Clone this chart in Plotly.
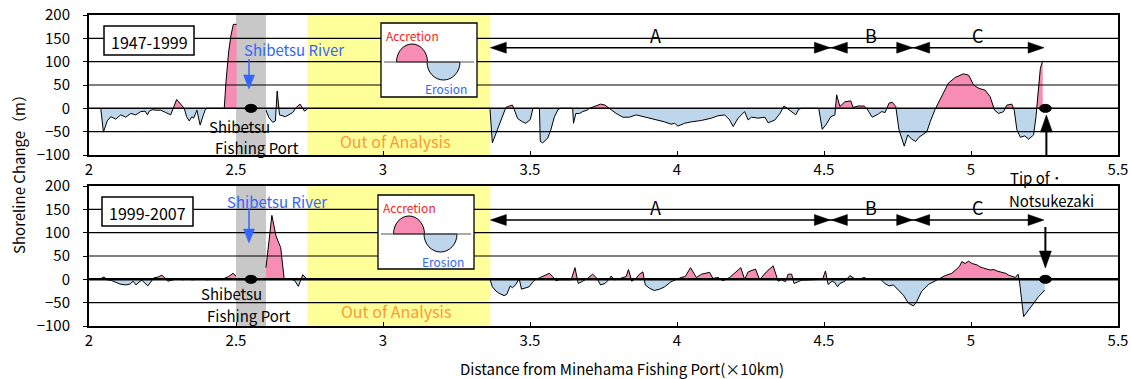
import plotly.graph_objects as go

# ---------------- data ----------------
# 1947-1999 shoreline change (m) vs distance (x10 km)
x_4799_west = [2.040, 2.049, 2.062, 2.074, 2.091, 2.108, 2.125, 2.142, 2.159, 2.176, 2.191, 2.199, 2.205, 2.216,
               2.227, 2.244, 2.261, 2.278, 2.298, 2.312, 2.324, 2.332, 2.341, 2.350, 2.356, 2.367, 2.378, 2.388,
               2.395, 2.401, 2.460, 2.466, 2.475, 2.483, 2.491, 2.502]
y_4799_west = [0, -51, -27, -18, -23, -14, -19, -11, -14, -7, -6, -14, -6, -3,
               -4, -4, -9, -14, 19, 9, 0, -18, -27, -18, -21, -4, -36, -16,
               -4, 0, 0, 57, 121, 157, 180, 180]
x_4799_mid = [2.602, 2.612, 2.625, 2.634, 2.640, 2.648, 2.668, 2.693, 2.705, 2.718, 2.733, 2.742]
y_4799_mid = [-4, -20, -30, -27, 37, -14, -18, -9, 2, 9, -6, -2]
x_4799_east = [3.364, 3.372, 3.389, 3.406, 3.418, 3.430, 3.440, 3.446, 3.458, 3.475, 3.486, 3.501, 3.510,
               3.532, 3.535, 3.543, 3.560, 3.571, 3.583, 3.596, 3.605, 3.645, 3.648, 3.656, 3.668, 3.679,
               3.694, 3.702, 3.725, 3.740, 3.755, 3.770, 3.793, 3.816, 3.838, 3.861, 3.889, 3.924, 3.958,
               3.980, 3.992, 4.003, 4.026, 4.048, 4.083, 4.117, 4.139, 4.162, 4.179, 4.191, 4.208, 4.230,
               4.242, 4.253, 4.276, 4.299, 4.310, 4.333, 4.350, 4.364, 4.384, 4.404, 4.414, 4.423, 4.482,
               4.494, 4.508, 4.523, 4.537, 4.543, 4.554, 4.571, 4.591, 4.599, 4.616, 4.637, 4.645, 4.664,
               4.685, 4.696, 4.708, 4.721, 4.732, 4.744, 4.755, 4.773, 4.785, 4.798, 4.812, 4.823, 4.850,
               4.861, 4.878, 4.900, 4.923, 4.946, 4.974, 4.992, 5.009, 5.026, 5.048, 5.065, 5.080, 5.094,
               5.111, 5.122, 5.139, 5.147, 5.156, 5.168, 5.183, 5.196, 5.213, 5.221, 5.230, 5.236, 5.244]
y_4799_east = [-2, -74, -46, -18, 2, 5, 7, -2, -22, -29, -32, -24, 0,
               0, -71, -74, -64, -46, -18, -2, 0, 0, -32, -11, -11, -7,
               -4, 0, 5, 9, 7, 0, -11, -19, -19, -14, -18, -24, -29,
               -34, -32, -38, -32, -29, -26, -21, -16, -14, -25, -39, -21, -7,
               -25, -19, -21, -19, -31, -25, -11, 5, -4, -14, -2, 0, 0,
               -45, -34, -18, -14, 29, 4, 14, 16, 2, 5, 5, 0, -19,
               -12, -7, -9, 11, 13, 4, -46, -81, -57, -66, -71, -62, -50,
               -29, -2, 25, 54, 66, 74, 71, 50, 43, 39, 25, -4, -11,
               -7, 7, 9, -4, -46, -62, -59, -66, -57, -18, 54, 86, 102]

# 1999-2007 shoreline change (m)
x_9907_west = [2.040, 2.045, 2.052, 2.060, 2.075, 2.090, 2.105, 2.125, 2.140, 2.150, 2.160, 2.170, 2.180,
               2.190, 2.200, 2.210, 2.220, 2.235, 2.248, 2.258, 2.268, 2.280, 2.290, 2.300, 2.320, 2.335,
               2.350, 2.370, 2.390, 2.400, 2.430, 2.460, 2.475, 2.490, 2.500]
y_9907_west = [0, 4, 5, -1, -2, -6, -10, -12, -10, -4, -12, -6, -2,
               -8, -14, -6, 3, 5, 9, 3, -4, -2, 0, 1, -1, 1,
               -1, 0, 1, -1, 0, 2, 6, 13, 7]
x_9907_mid = [2.602, 2.622, 2.636, 2.645, 2.652, 2.664, 2.690, 2.700, 2.712, 2.727, 2.742]
y_9907_mid = [25, 137, 93, 77, 68, 0, 0, -3, -15, 10, 0]
x_9907_east = [3.364, 3.372, 3.384, 3.395, 3.412, 3.421, 3.433, 3.440, 3.452, 3.463, 3.471, 3.483, 3.497,
               3.509, 3.517, 3.535, 3.549, 3.566, 3.577, 3.588, 3.600, 3.640, 3.653, 3.664, 3.679, 3.696,
               3.713, 3.728, 3.740, 3.755, 3.767, 3.776, 3.787, 3.799, 3.816, 3.827, 3.835, 3.846, 3.861,
               3.872, 3.884, 3.892, 3.906, 3.923, 3.941, 3.958, 3.980, 3.997, 4.014, 4.028, 4.046, 4.066,
               4.083, 4.111, 4.122, 4.140, 4.156, 4.179, 4.196, 4.217, 4.230, 4.242, 4.267, 4.281, 4.304,
               4.327, 4.344, 4.355, 4.369, 4.378, 4.390, 4.398, 4.412, 4.423, 4.495, 4.505, 4.514, 4.528,
               4.537, 4.546, 4.554, 4.571, 4.588, 4.596, 4.605, 4.622, 4.637, 4.648, 4.662, 4.685, 4.694,
               4.707, 4.721, 4.736, 4.753, 4.770, 4.787, 4.804, 4.815, 4.832, 4.855, 4.878, 4.895, 4.912,
               4.935, 4.952, 4.960, 4.969, 4.980, 4.992, 5.003, 5.020, 5.030, 5.043, 5.055, 5.065, 5.078,
               5.088, 5.105, 5.118, 5.128, 5.151, 5.160, 5.164, 5.179, 5.207, 5.230, 5.251]
y_9907_east = [0, -16, -25, -30, -35, -32, -14, -18, -11, 2, -21, -18, -16,
               -6, -1, 4, 8, 13, 6, -3, -1, -1, 25, -9, -4, 2,
               11, 2, -12, -9, -1, 7, -1, 0, 4, 6, 21, -4, 2,
               11, 16, -12, -19, -24, -21, -16, -5, 0, 4, 6, 25, 4,
               11, 15, 2, 4, -3, 4, 13, 25, 0, 16, 22, -1, 16,
               29, -4, -1, -5, 11, 11, -9, -5, -2, 0, 18, -11, -4,
               -7, -16, -9, -4, 8, 4, 1, 1, 4, 0, 1, 2, -1,
               -9, -14, -12, -23, -34, -51, -57, -48, -26, -11, -4, 2, 8,
               13, 24, 27, 38, 34, 39, 34, 31, 27, 24, 22, 20, 21,
               18, 15, 13, 9, 4, 11, 0, -80, -55, -37, -23]

period_labels = ["1947-1999", "1999-2007"]
section_labels = ["A", "B", "C"]
section_bounds = [3.365, 4.525, 4.805, 5.252]
port_x = 2.551
tip_x = 5.253
port_band = [2.50, 2.602]
out_band = [2.742, 3.365]

# ---------------- layout helpers ----------------
W, H = 1131, 379
ML, MR, MT, MB = 89, 13, 15, 53
PW, PH = W - ML - MR, H - MT - MB


def PX(px):
    return (px - ML) / PW


def PY(py):
    return (H - MB - py) / PH


def x2px(x):
    return ML + (x - 2.0) / 3.5 * PW


PINK = "#F78DB3"
BLUE = "#BDD6EC"
RIVER = "#3366FF"
ORANGE = "#FF9933"
FONT = "Noto Sans CJK JP"


def split_sign(xs, ys):
    px_, py_, nx_, ny_ = [], [], [], []
    for i, (x, y) in enumerate(zip(xs, ys)):
        if i > 0:
            x0, y0 = xs[i - 1], ys[i - 1]
            if (y0 > 0 > y) or (y0 < 0 < y):
                xc = x0 + (x - x0) * y0 / (y0 - y)
                px_.append(xc); py_.append(0); nx_.append(xc); ny_.append(0)
        px_.append(x); py_.append(max(y, 0))
        nx_.append(x); ny_.append(min(y, 0))
    return px_, py_, nx_, ny_


fig = go.Figure()

panels = [
    ("x", "y", [(x_4799_west, y_4799_west), (x_4799_mid, y_4799_mid), (x_4799_east, y_4799_east)]),
    ("x2", "y2", [(x_9907_west, y_9907_west), (x_9907_mid, y_9907_mid), (x_9907_east, y_9907_east)]),
]
for xa, ya, segs in panels:
    for xs, ys in segs:
        a, b, c, d = split_sign(xs, ys)
        fig.add_trace(go.Scatter(x=a, y=b, xaxis=xa, yaxis=ya, mode="lines", fill="tozeroy",
                                 fillcolor=PINK, line=dict(width=0), hoverinfo="skip", showlegend=False))
        fig.add_trace(go.Scatter(x=c, y=d, xaxis=xa, yaxis=ya, mode="lines", fill="tozeroy",
                                 fillcolor=BLUE, line=dict(width=0), hoverinfo="skip", showlegend=False))
        fig.add_trace(go.Scatter(x=xs, y=ys, xaxis=xa, yaxis=ya, mode="lines",
                                 line=dict(color="black", width=1), hoverinfo="skip", showlegend=False))

shapes = []
annotations = []


def tri(tx, ty, direction, length, width, color="black"):
    # triangle with tip at pixel (tx, ty)
    if direction == "left":
        pts = [(tx, ty), (tx + length, ty - width / 2), (tx + length, ty + width / 2)]
    elif direction == "right":
        pts = [(tx, ty), (tx - length, ty - width / 2), (tx - length, ty + width / 2)]
    elif direction == "up":
        pts = [(tx, ty), (tx - width / 2, ty + length), (tx + width / 2, ty + length)]
    else:
        pts = [(tx, ty), (tx - width / 2, ty - length), (tx + width / 2, ty - length)]
    path = "M " + " L ".join(f"{PX(p[0]):.5f},{PY(p[1]):.5f}" for p in pts) + " Z"
    return dict(type="path", xref="paper", yref="paper", path=path, fillcolor=color,
                line=dict(color=color, width=0.5), layer="above")


def pline(x0, y0, x1, y1, color="black", width=1.5):
    return dict(type="line", xref="paper", yref="paper", x0=PX(x0), y0=PY(y0), x1=PX(x1), y1=PY(y1),
                line=dict(color=color, width=width), layer="above")


def half_ellipse(cx, cy, rx, ry, up, fill):
    k = 0.5523
    s = -1 if up else 1
    pts = [(cx - rx, cy), (cx - rx, cy + s * k * ry), (cx - k * rx, cy + s * ry), (cx, cy + s * ry),
           (cx + k * rx, cy + s * ry), (cx + rx, cy + s * k * ry), (cx + rx, cy)]
    f = lambda p: f"{PX(p[0]):.5f},{PY(p[1]):.5f}"
    path = f"M {f(pts[0])} C {f(pts[1])} {f(pts[2])} {f(pts[3])} C {f(pts[4])} {f(pts[5])} {f(pts[6])} Z"
    return dict(type="path", xref="paper", yref="paper", path=path, fillcolor=fill,
                line=dict(color="black", width=1), layer="above")


def text(px, py, s, size=15, color="black", **kw):
    annotations.append(dict(xref="paper", yref="paper", x=PX(px), y=PY(py), text=s, showarrow=False,
                            xanchor="center", yanchor="middle", font=dict(size=size, color=color, family=FONT), **kw))


# bands (below grid)
for xa in ["x", "x2"]:
    ya = "y" if xa == "x" else "y2"
    shapes.append(dict(type="rect", xref=xa, yref=f"{ya} domain", x0=port_band[0], x1=port_band[1], y0=0, y1=1,
                       fillcolor="#C8C8C8", line=dict(width=0), layer="below"))
    shapes.append(dict(type="rect", xref=xa, yref=f"{ya} domain", x0=out_band[0], x1=out_band[1], y0=0, y1=1,
                       fillcolor="#FFFF99", line=dict(width=0), layer="below"))

# grid lines drawn over fills
for xa, ya, zw in [("x", "y", 1.5), ("x2", "y2", 2.5)]:
    for v in [-50, 0, 50, 100, 150]:
        shapes.append(dict(type="line", xref=f"{xa} domain", yref=ya, x0=0, x1=1, y0=v, y1=v,
                           line=dict(color="black", width=zw if v == 0 else 1.2), layer="above"))

# per panel decorations; offsets in pixels
panel_cfg = [
    dict(xa="x", ya="y", label_box=(104, 26, 194, 55), inset=(381, 23),
         river_txt=(294, 49), river_arrow=(249, 59, 89), port_txt=[(239, 126), (257, 147)],
         out_txt=(395, 141), arrow_y=47.7, letter_y=35),
    dict(xa="x2", ya="y2", label_box=(102, 197, 193, 226), inset=(378, 195),
         river_txt=(277, 201), river_arrow=(249, 208, 243), port_txt=[(231, 293), (249, 315)],
         out_txt=(396, 311), arrow_y=220, letter_y=207),
]
letter_shift = [-5, -2, -2]

for i, c in enumerate(panel_cfg):
    x0, y0, x1, y1 = c["label_box"]
    shapes.append(dict(type="rect", xref="paper", yref="paper", x0=PX(x0), x1=PX(x1), y0=PY(y1), y1=PY(y0),
                       fillcolor="white", line=dict(color="black", width=1.5), layer="above"))
    text((x0 + x1) / 2, (y0 + y1) / 2 + 1, period_labels[i], size=16)

    # inset legend
    bx, by = c["inset"]
    shapes.append(dict(type="rect", xref="paper", yref="paper", x0=PX(bx), x1=PX(bx + 96), y0=PY(by + 74),
                       y1=PY(by), fillcolor="white", line=dict(color="black", width=1.3), layer="above"))
    shapes.append(half_ellipse(bx + 31, by + 39, 15.5, 18, True, PINK))
    shapes.append(half_ellipse(bx + 62.5, by + 39, 16.5, 18, False, BLUE))
    shapes.append(pline(bx + 3, by + 39, bx + 93, by + 39, color="#555555", width=1.2))
    text(bx + 31, by + 12, "Accretion", size=12, color="#FF2020")
    text(bx + 65, by + 66, "Erosion", size=12, color=RIVER)

    # river label and arrow
    text(*c["river_txt"], "Shibetsu River", size=15, color=RIVER)
    ax_, at, ah = c["river_arrow"]
    shapes.append(pline(ax_, at, ax_, ah - 12, color=RIVER, width=1.5))
    shapes.append(tri(ax_, ah, "down", 14, 11, color=RIVER))

    # port marker and tip marker
    for mx in (port_x, tip_x):
        shapes.append(dict(type="circle", xref=c["xa"], yref=c["ya"], xsizemode="pixel", ysizemode="pixel",
                           xanchor=mx, yanchor=0, x0=-6, x1=6, y0=-4, y1=4, fillcolor="black",
                           line=dict(color="black", width=1), layer="above"))
    text(*c["port_txt"][0], "Shibetsu", size=15)
    text(*c["port_txt"][1], "Fishing Port", size=15)
    text(*c["out_txt"], "Out of Analysis", size=16, color=ORANGE)

    # section arrows
    ay = c["arrow_y"]
    bpx = [x2px(b) for b in section_bounds]
    shapes.append(pline(bpx[0] + 5, ay, bpx[-1] - 5, ay, width=1.5))
    for j in range(3):
        shapes.append(tri(bpx[j], ay, "left", 16, 11))
        shapes.append(tri(bpx[j + 1] - 1, ay, "right", 16, 11))
        text((bpx[j] + bpx[j + 1]) / 2 + letter_shift[j], c["letter_y"], section_labels[j], size=18)

# tip arrows
tpx = x2px(tip_x) + 1
shapes.append(pline(tpx, 155, tpx, 130, width=2))
shapes.append(tri(tpx, 115, "up", 17, 12))
shapes.append(pline(tpx - 1, 227, tpx - 1, 253, width=2))
shapes.append(tri(tpx - 1, 268, "down", 17, 12))
text(1035, 177, "Tip of ･", size=15)
text(1051, 200, "Notsukezaki", size=15)

# axis titles
text(18, 171, "Shoreline Change（m）", size=15, textangle=-90)
text(622, 368, "Distance from Minehama Fishing Port(×10km)", size=15)

xax = dict(range=[2, 5.5], dtick=0.5, ticks="inside", ticklen=4, tickcolor="black", showline=True,
           mirror=True, linewidth=2, linecolor="black", showgrid=False, zeroline=False, automargin=False,
           tickfont=dict(size=15, family=FONT, color="black"))
yax = dict(range=[-100, 200], dtick=50, ticks="outside", ticklen=4, tickcolor="black", showline=True,
           mirror=True, linewidth=2, linecolor="black", showgrid=False, zeroline=False, automargin=False,
           tickfont=dict(size=15, family=FONT, color="black"), ticklabelstandoff=10)

fig.update_layout(
    template="none",
    width=W, height=H, margin=dict(l=ML, r=MR, t=MT, b=MB, pad=0, autoexpand=False),
    paper_bgcolor="white", plot_bgcolor="white",
    font=dict(family=FONT, color="black"),
    xaxis=dict(xax, anchor="y", domain=[0, 1]),
    yaxis=dict(yax, anchor="x", domain=[(PH - 140) / PH, 1]),
    xaxis2=dict(xax, anchor="y2", domain=[0, 1]),
    yaxis2=dict(yax, anchor="x2", domain=[0, 140 / PH]),
    shapes=shapes, annotations=annotations, showlegend=False,
)

fig.write_html("out.html")
